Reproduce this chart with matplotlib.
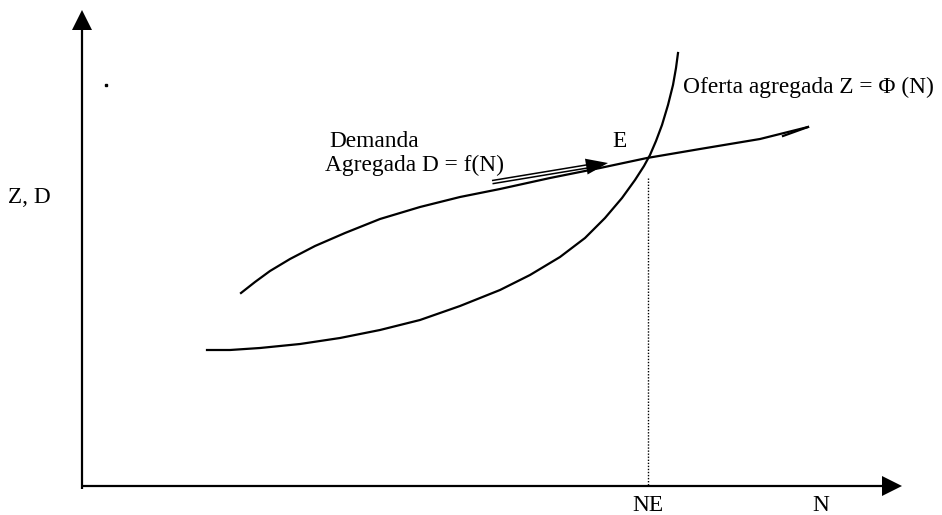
import numpy as np
import matplotlib.pyplot as plt

# everything is laid out in pixel units of the 942x515 picture
W, H = 942, 515

# ── Curves ─────────────────────────────────────────────────────────
supply_x = [207, 230, 260, 300, 340, 380, 420, 460, 500, 530, 560, 585, 605, 622, 635, 644, 650, 656, 662, 668, 673, 676, 678]
supply_y = [350, 350, 348, 344, 338, 330, 320, 306, 290, 275, 257, 238, 218, 198, 180, 166, 155, 141, 125, 105, 85, 68, 53]

demand_x = [241, 255, 270, 290, 315, 345, 380, 420, 460, 500, 550, 600, 647, 700, 760, 808]
demand_y = [293, 282, 271, 259, 246, 233, 219, 207, 197, 189, 178, 168, 158, 149, 139, 127]

# axes: origin, x-end, y-end
axis_origin = (82, 486)
x_axis_end = 902
y_axis_end = 10

# equilibrium
ne_x = 648
ne_top = 178

# double-line arrow along demand curve
arrow_start = (493, 182)
arrow_tip = (608, 163)

# hook at the end of the demand curve
hook_x = [783, 808]
hook_y = [136, 127]

labels = {
    "Z, D": (8, 203),
    "Demanda": (329, 147),
    "Agregada D = f(N)": (325, 171),
    "E": (612, 147),
    "Oferta agregada Z = \u03a6 (N)": (683, 93),
    "NE": (632, 511),
    "N": (812, 511),
}

FONT = "Liberation Serif"
FS = 16.8
LW = 1.6


def arrow_head(ax, tip, direction, length=20, width=20):
    d = np.array(direction, float)
    d = d / np.hypot(*d)
    n = np.array([-d[1], d[0]])
    tip = np.array(tip, float)
    base = tip - d * length
    pts = np.array([tip, base + n * width / 2, base - n * width / 2])
    ax.fill(pts[:, 0], pts[:, 1], color="black", lw=0)


fig = plt.figure(figsize=(W / 100, H / 100), dpi=100)
ax = fig.add_axes([0, 0, 1, 1])
ax.set_xlim(0, W)
ax.set_ylim(H, 0)
ax.axis("off")

# axes
ox, oy = axis_origin
ax.plot([ox, x_axis_end - 20], [oy, oy], color="black", lw=LW, solid_capstyle="butt")
ax.plot([ox, ox], [oy + 3, y_axis_end + 20], color="black", lw=LW, solid_capstyle="butt")
arrow_head(ax, (x_axis_end, oy), (1, 0))
arrow_head(ax, (ox, y_axis_end), (0, -1))

# stray dot
ax.plot([106], [85], marker="s", ms=1.5, color="black")

# curves
ax.plot(supply_x, supply_y, color="black", lw=LW)
ax.plot(demand_x, demand_y, color="black", lw=LW)
ax.plot(hook_x, hook_y, color="black", lw=LW)

# double-shaft arrow
sx, sy = arrow_start
tx, ty = arrow_tip
d = np.array([tx - sx, ty - sy], float)
d /= np.hypot(*d)
n = np.array([-d[1], d[0]])
end = np.array(arrow_tip) - d * 18
for off in (-1.6, 1.6):
    ax.plot([sx + n[0] * off, end[0] + n[0] * off],
            [sy + n[1] * off, end[1] + n[1] * off], color="black", lw=1.1)
arrow_head(ax, arrow_tip, d, length=22, width=16)

# dotted line at NE
ax.plot([ne_x, ne_x], [ne_top, oy], color="black", lw=1.0, linestyle=(0, (1, 1.2)))

for txt, (x, y) in labels.items():
    ax.text(x, y, txt, fontsize=FS, family=FONT, ha="left", va="baseline")

fig.savefig("out.png", dpi=100)
